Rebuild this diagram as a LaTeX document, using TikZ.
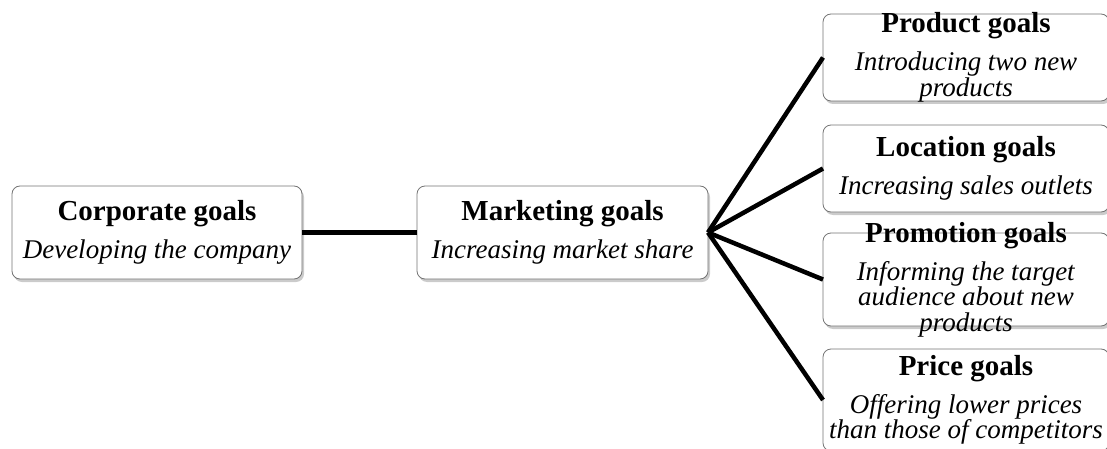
\documentclass[tikz,border=0pt]{standalone}
\usepackage{fontspec}
\setmainfont{Liberation Serif}[
    BoldFont={Liberation Serif Bold},
    ItalicFont={Liberation Serif Italic}
]
\usetikzlibrary{
    positioning,
    shadows
}
\newcommand\goalfont{\fontsize{27}{25.5}\selectfont\lineskiplimit=-100pt\relax}
\newcommand\goaltitle[1]{{\fontsize{29}{25.5}\selectfont\bfseries #1}}

\begin{document}
\begin{tikzpicture}[
    x=1pt, y=1pt,
    % Boxes and their texts
    goalbox/.style={
        draw=black!55,
        line width=0.8pt,
        rounded corners=8pt,
        fill=white,
        inner sep=0pt,
        outer sep=0pt,
        drop shadow={shadow xshift=2pt, shadow yshift=-3pt, fill=black!45, opacity=0.45}
    },
    goaltext/.style={
        align=center,
        inner sep=0pt,
        font=\goalfont
    },
    link/.style={
        line width=4.5pt,
        black
    }
]
    \useasboundingbox (0,0) rectangle (1107,448);

    % Left chain
    \node[goalbox, minimum width=290pt, minimum height=93pt] (corp) at (157,215.5) {};
    \node[goalbox, minimum width=291pt, minimum height=93pt, right=115pt of corp] (market) {};

    % Right column
    \node[goalbox, minimum width=286pt, minimum height=87pt] (product) at (966,390.5) {};
    \node[goalbox, minimum width=286pt, minimum height=87pt, below=24pt of product] (location) {};
    \node[goalbox, minimum width=286pt, minimum height=93pt, below=21pt of location] (promo) {};
    \node[goalbox, minimum width=286pt, minimum height=102pt, below=23pt of promo] (price) {};

    % Texts
    \node[goaltext] (corp-text) at (corp) {\goaltitle{Corporate goals}\\[12.5pt]\textit{Developing the company}};
    \node[goaltext] (market-text) at (market) {\goaltitle{Marketing goals}\\[12.5pt]\textit{Increasing market share}};
    \node[goaltext] (product-text) at (product) {\goaltitle{Product goals}\\[12.5pt]\textit{Introducing two new}\\\textit{products}};
    \node[goaltext] (location-text) at (location) {\goaltitle{Location goals}\\[12.5pt]\textit{Increasing sales outlets}};
    \node[goaltext] (promo-text) at (promo) {\goaltitle{Promotion goals}\\[12.5pt]\textit{Informing the target}\\\textit{audience about new}\\\textit{products}};
    \node[goaltext] (price-text) at (price) {\goaltitle{Price goals}\\[12.5pt]\textit{Offering lower prices}\\\textit{than those of competitors}};

    % Connectors
    \draw[link] (corp.east) -- (market.west);
    \foreach \target in {product, location, promo, price}
        \draw[link] (market.east) -- (\target.west);
\end{tikzpicture}
\end{document}
